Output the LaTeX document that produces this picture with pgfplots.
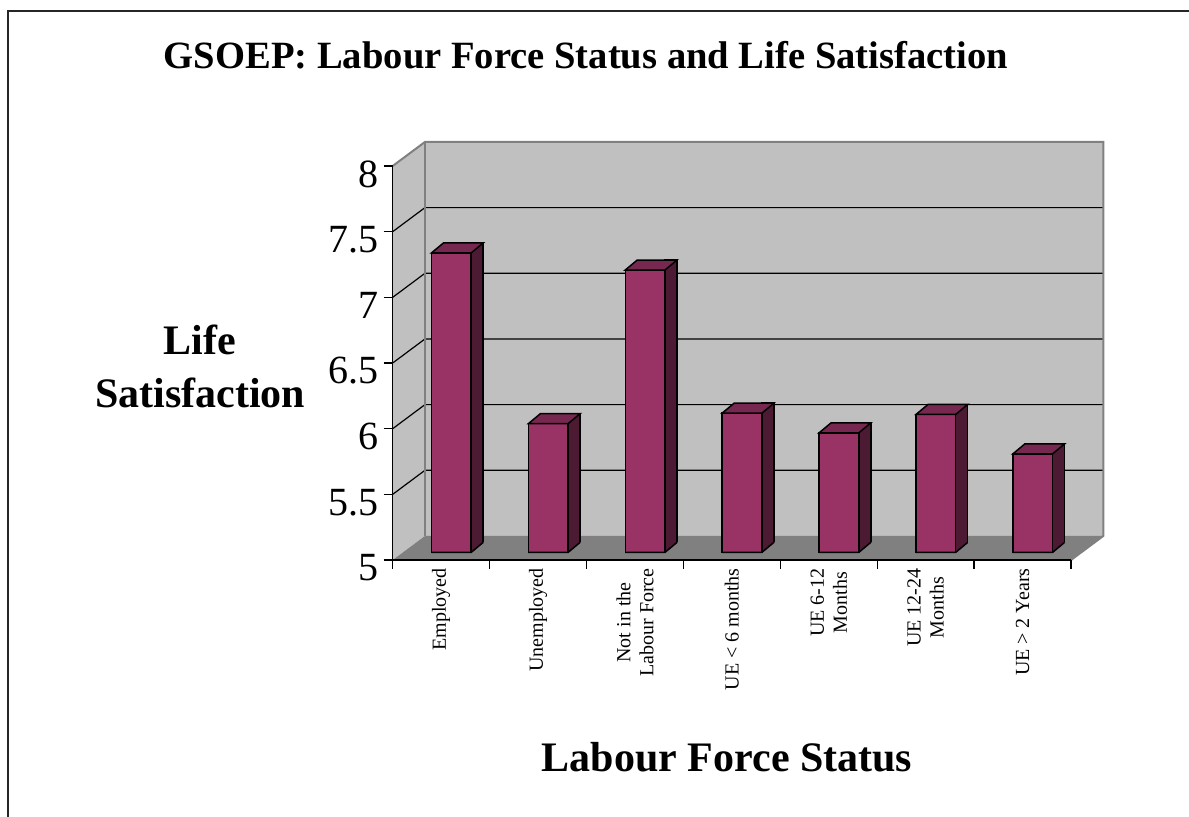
\documentclass[border=0pt]{standalone}
\usepackage{fontspec}
\setmainfont{Liberation Serif}
\usepackage{pgfplots}
\pgfplotsset{compat=1.18}
\usepackage{pgfplotstable}

\definecolor{wallc}{RGB}{192,192,192}
\definecolor{floorc}{RGB}{128,128,128}
\definecolor{edgec}{RGB}{128,128,128}
\definecolor{frontc}{RGB}{153,51,102}
\definecolor{topc}{RGB}{119,40,80}
\definecolor{sidec}{RGB}{77,26,51}

% mean life satisfaction by labour force status
\pgfplotstableread{
x v
0 7.28
1 5.98
2 7.15
3 6.06
4 5.91
5 6.05
6 5.75
}\lfdata

% top face of a bar (bar width 19.86pt, depth 6pt x 5pt)
\pgfdeclareplotmark{prismtop}{%
  \pgfsetfillcolor{topc}\pgfsetstrokecolor{black}%
  \pgfpathmoveto{\pgfqpoint{-9.93pt}{0pt}}%
  \pgfpathlineto{\pgfqpoint{9.93pt}{0pt}}%
  \pgfpathlineto{\pgfqpoint{15.93pt}{5pt}}%
  \pgfpathlineto{\pgfqpoint{-3.93pt}{5pt}}%
  \pgfpathclose
  \pgfusepathqfillstroke}
% foot of a bar: bottom edge and slanted foot of the side face
\pgfdeclareplotmark{prismbase}{%
  \pgfsetfillcolor{floorc}%
  \pgfpathmoveto{\pgfqpoint{9.93pt}{-0.4pt}}%
  \pgfpathlineto{\pgfqpoint{16.9pt}{-0.4pt}}%
  \pgfpathlineto{\pgfqpoint{16.9pt}{5pt}}%
  \pgfpathlineto{\pgfqpoint{15.93pt}{5pt}}%
  \pgfpathclose
  \pgfusepathqfill
  \pgfsetstrokecolor{black}%
  \pgfpathmoveto{\pgfqpoint{-9.93pt}{0pt}}%
  \pgfpathlineto{\pgfqpoint{9.93pt}{0pt}}%
  \pgfpathlineto{\pgfqpoint{15.93pt}{5pt}}%
  \pgfusepathqstroke}

\begin{document}
\begin{tikzpicture}
\useasboundingbox (0,0) rectangle (594.5pt,408pt);
\draw[line width=0.8pt, black!85] (4pt,-2pt) -- (4pt,402.6pt) -- (600pt,402.6pt);

\begin{axis}[
  at={(196.35pt,128pt)}, anchor=south west,
  x=48.45pt, y=65.67pt,
  xmin=0, xmax=7, ymin=5, ymax=8,
  clip=false, axis on top,
  axis x line*=bottom, axis y line*=left,
  axis line style={-, black, line width=0.7pt},
  tick align=outside, major tick length=4.5pt,
  tick style={black, line width=0.7pt},
  xtick={0,...,7}, xticklabel={\mbox{}},
  extra x ticks={0.5,1.5,...,6.5},
  extra x tick labels={Employed, Unemployed, {Not in the\\Labour Force}, {UE < 6 months}, {UE 6-12\\Months}, {UE 12-24\\Months}, {UE > 2 Years}},
  extra x tick style={major tick length=0pt,
    xticklabel style={rotate=90, anchor=east, align=center, inner sep=4pt,
      font=\fontsize{10}{11.5}\selectfont}},
  ytick={5,5.5,...,8},
  /pgf/number format/assume math mode=true,
  yticklabel style={font=\fontsize{20}{24}\selectfont, yshift=-4pt, inner sep=2.5pt},
  title={GSOEP: Labour Force Status and Life Satisfaction},
  every axis title/.style={at={(axis description cs:0.285,1.282)}, anchor=center,
    font=\bfseries\fontsize{19.3}{23}\selectfont},
  ylabel={Life\\Satisfaction},
  every axis y label/.style={at={(axis description cs:-0.284,0.492)}, anchor=center,
    align=center, font=\bfseries\fontsize{21}{26.5}\selectfont},
  xlabel={Labour Force Status},
  every axis x label/.style={at={(axis description cs:0.493,-0.5)}, anchor=center,
    font=\bfseries\fontsize{21}{25}\selectfont},
]
% walls and floor
\addplot[fill=wallc, draw=none] coordinates {(0.333,5.183) (7.333,5.183) (7.333,8.183) (0.333,8.183)} -- cycle;
\addplot[fill=wallc, draw=none] coordinates {(0,5) (0.333,5.183) (0.333,8.183) (0,8)} -- cycle;
\addplot[fill=floorc, draw=none] coordinates {(0,5) (7,5) (7.333,5.183) (0.333,5.183)} -- cycle;
% gridlines
\addplot[black, line width=0.6pt] coordinates {(0,5.5) (0.333,5.683) (7.333,5.683)};
\addplot[black, line width=0.6pt] coordinates {(0,6) (0.333,6.183) (7.333,6.183)};
\addplot[black, line width=0.6pt] coordinates {(0,6.5) (0.333,6.683) (7.333,6.683)};
\addplot[black, line width=0.6pt] coordinates {(0,7) (0.333,7.183) (7.333,7.183)};
\addplot[black, line width=0.6pt] coordinates {(0,7.5) (0.333,7.683) (7.333,7.683)};
% wall edges
\addplot[edgec, line width=1pt] coordinates {(0,8) (0.333,8.183) (7.333,8.183) (7.333,5.183) (7,5)};
\addplot[edgec, line width=1pt] coordinates {(0.333,5.183) (0.333,8.183)};
\end{axis}

\begin{axis}[
  at={(196.35pt,131.81pt)}, anchor=south west,
  x=48.45pt, y=65.67pt,
  xmin=0, xmax=7, ymin=5.058, ymax=8.3,
  hide axis,
]
\addplot[ybar, bar width=0.124, bar shift=0.267, fill=sidec, draw=black, line width=0.75pt]
  table[x expr=\thisrow{x}+0.605, y expr=\thisrow{v}+0.134] {\lfdata};
\addplot[ybar, bar width=0.41, bar shift=0, fill=frontc, draw=black, line width=0.75pt]
  table[x expr=\thisrow{x}+0.605, y expr=\thisrow{v}+0.058] {\lfdata};
\addplot[only marks, mark=prismtop, line width=0.75pt]
  table[x expr=\thisrow{x}+0.605, y expr=\thisrow{v}+0.058] {\lfdata};
\addplot[only marks, mark=prismbase, line width=0.75pt]
  table[x expr=\thisrow{x}+0.605, y expr=5.058] {\lfdata};
\end{axis}
\end{tikzpicture}
\end{document}
